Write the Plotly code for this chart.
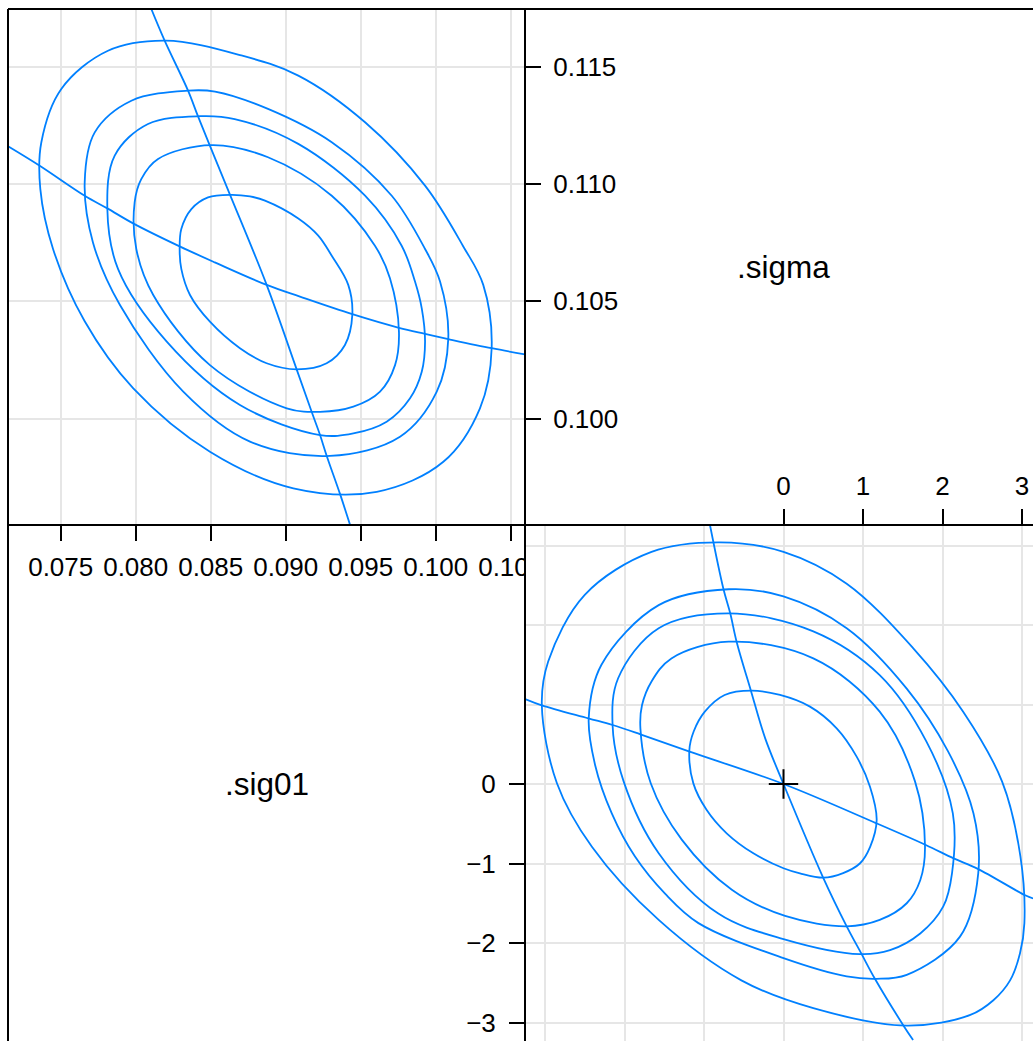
import plotly.graph_objects as go

# ---------------------------------------------------------------
# Profile pairs plot for a mixed model: .sig01 and .sigma
# upper-left panel: original scale, lower-right panel: zeta scale
# ---------------------------------------------------------------

# tick values
sig01_ticks = [0.075, 0.080, 0.085, 0.090, 0.095, 0.100, 0.105]
sigma_ticks = [0.100, 0.105, 0.110, 0.115]
zeta_grid = [-3, -2, -1, 0, 1, 2, 3]
zeta_x_ticks = [0, 1, 2, 3]
zeta_y_ticks = [0, -1, -2, -3]

# contours on the original scale (.sig01, .sigma)
orig_c1 = [(0.08637, 0.10954), (0.08482, 0.10943), (0.08371, 0.10893), (0.08304, 0.10808),
           (0.08293, 0.10723), (0.08304, 0.10638), (0.08362, 0.10527), (0.08495, 0.10413),
           (0.08695, 0.10300), (0.08873, 0.10236), (0.09073, 0.10210), (0.09273, 0.10236),
           (0.09395, 0.10314), (0.09444, 0.10442), (0.09417, 0.10570), (0.09307, 0.10694),
           (0.09217, 0.10780), (0.09084, 0.10853), (0.08862, 0.10929), (0.08762, 0.10947)]
orig_c2 = [(0.08504, 0.11166), (0.08149, 0.11107), (0.08037, 0.11021), (0.07993, 0.10922),
           (0.08004, 0.10723), (0.08117, 0.10527), (0.08495, 0.10228), (0.09007, 0.10044),
           (0.09229, 0.10029), (0.09451, 0.10051), (0.09629, 0.10115), (0.09729, 0.10228),
           (0.09755, 0.10370), (0.09695, 0.10598), (0.09595, 0.10737), (0.09307, 0.10950),
           (0.08882, 0.11114)]
orig_c3 = [(0.08429, 0.11289), (0.08082, 0.11256), (0.07860, 0.11121), (0.07811, 0.10893),
           (0.07882, 0.10638), (0.08207, 0.10328), (0.08695, 0.10058), (0.09229, 0.09930),
           (0.09451, 0.09937), (0.09673, 0.09987), (0.09829, 0.10087), (0.09907, 0.10200),
           (0.09929, 0.10328), (0.09907, 0.10470), (0.09862, 0.10584), (0.09773, 0.10737),
           (0.09529, 0.10950), (0.09084, 0.11171), (0.08660, 0.11277)]
orig_c4 = [(0.08349, 0.11398), (0.07971, 0.11355), (0.07727, 0.11220), (0.07660, 0.11007),
           (0.07715, 0.10751), (0.07895, 0.10484), (0.08317, 0.10115), (0.08762, 0.09902),
           (0.09295, 0.09841), (0.09762, 0.09923), (0.10007, 0.10115), (0.10084, 0.10342),
           (0.10029, 0.10584), (0.09929, 0.10723), (0.09707, 0.10950), (0.09307, 0.11178),
           (0.08882, 0.11320), (0.08529, 0.11394)]
orig_c5 = [(0.08200, 0.11611), (0.07815, 0.11568), (0.07504, 0.11405), (0.07371, 0.11178),
           (0.07364, 0.10979), (0.07449, 0.10723), (0.07659, 0.10416), (0.07984, 0.10129),
           (0.08495, 0.09859), (0.09051, 0.09703), (0.09607, 0.09688), (0.10051, 0.09816),
           (0.10295, 0.10044), (0.10373, 0.10300), (0.10317, 0.10570), (0.10182, 0.10736),
           (0.09929, 0.10993), (0.09529, 0.11263), (0.09084, 0.11462), (0.08704, 0.11548)]

# profile traces on the original scale
orig_trace_a = [(0.08104, 0.11746), (0.08193, 0.11611), (0.08349, 0.11398), (0.08415, 0.11289),
                (0.08493, 0.11166), (0.08627, 0.10957), (0.08873, 0.10570), (0.09073, 0.10210),
                (0.09173, 0.10029), (0.09229, 0.09930), (0.09273, 0.09842), (0.09362, 0.09679),
                (0.09429, 0.09547)]
orig_trace_b = [(0.07149, 0.11161), (0.07360, 0.11078), (0.07660, 0.10950), (0.07811, 0.10896),
                (0.07989, 0.10830), (0.08293, 0.10734), (0.08527, 0.10666), (0.08873, 0.10570),
                (0.09095, 0.10520), (0.09444, 0.10445), (0.09755, 0.10387), (0.09929, 0.10361),
                (0.10084, 0.10339), (0.10373, 0.10300), (0.10595, 0.10274)]

# contours on the zeta scale (.sigma zeta, .sig01 zeta)
zeta_c1 = [(-0.40, 1.174), (-0.74, 1.12), (-0.99, 0.91), (-1.13, 0.66), (-1.184, 0.428),
           (-1.134, 0.008), (-0.966, -0.327), (-0.715, -0.62), (-0.379, -0.872), (0.0, -1.06),
           (0.207, -1.124), (0.501, -1.178), (0.75, -1.12), (0.96, -1.0), (1.09, -0.79),
           (1.172, -0.453), (1.088, -0.034), (0.92, 0.344), (0.669, 0.70), (0.333, 0.973),
           (-0.044, 1.12)]
zeta_c2 = [(-0.69, 1.79), (-1.41, 1.58), (-1.66, 1.29), (-1.78, 0.99), (-1.80, 0.70),
           (-1.67, 0.01), (-1.28, -0.70), (-0.65, -1.33), (0.02, -1.66), (0.795, -1.79),
           (1.21, -1.71), (1.55, -1.50), (1.72, -1.21), (1.78, -0.79), (1.655, 0.03),
           (1.21, 0.91), (0.375, 1.58)]
zeta_c3 = [(-0.69, 2.147), (-1.57, 1.96), (-2.08, 1.33), (-2.15, 0.74), (-2.01, 0.03),
           (-1.57, -0.87), (-0.82, -1.63), (0.0, -1.95), (0.96, -2.14), (1.34, -2.09),
           (1.72, -1.88), (2.01, -1.54), (2.12, -1.12), (2.13, -0.37), (1.80, 0.53),
           (1.21, 1.37), (0.375, 1.92)]
zeta_c4 = [(-0.69, 2.45), (-1.57, 2.25), (-2.29, 1.50), (-2.45, 0.83), (-2.37, 0.24),
           (-2.16, -0.37), (-1.87, -0.91), (-1.49, -1.38), (-1.07, -1.75), (0.0, -2.19),
           (0.795, -2.42), (1.17, -2.45), (1.55, -2.40), (2.22, -1.92), (2.45, -1.12),
           (2.39, -0.37), (2.07, 0.41), (1.55, 1.20), (0.795, 1.96), (0.0, 2.36)]
zeta_c5 = [(-0.80, 3.04), (-1.66, 2.92), (-2.50, 2.38), (-2.96, 1.54), (-3.04, 0.99),
           (-2.85, 0.01), (-2.41, -0.79), (-1.57, -1.71), (-0.53, -2.47), (0.375, -2.82),
           (1.55, -3.04), (2.35, -2.905), (2.64, -2.72), (2.85, -2.47), (2.975, -2.13),
           (3.03, -1.75), (2.98, -0.91), (2.75, 0.03), (2.26, 0.91), (1.63, 1.71),
           (0.795, 2.52), (0.0, 2.92)]

# profile traces on the zeta scale
zeta_trace_a = [(-0.925, 3.258), (-0.757, 2.46), (-0.67, 2.147), (-0.59, 1.79), (-0.41, 1.174),
                (-0.23, 0.574), (0.0, 0.0), (0.50, -1.18), (0.795, -1.79), (0.983, -2.14),
                (1.15, -2.45), (1.51, -3.04), (1.63, -3.22)]
zeta_trace_b = [(-3.25, 1.069), (-3.04, 0.99), (-2.455, 0.826), (-2.15, 0.742), (-1.80, 0.625),
                (-1.19, 0.41), (0.0, 0.0), (1.17, -0.495), (1.79, -0.767), (2.14, -0.935),
                (2.45, -1.07), (3.04, -1.40), (3.14, -1.44)]

# ---------------------------------------------------------------
W, H = 1033, 1041
BLUE = "#0080ff"
GRID = "#e6e6e6"
FONT = "Liberation Sans, Arial, Helvetica, sans-serif"
TICK_SIZE = 26
LABEL_SIZE = 31.5

fig = go.Figure()


def add_curve(pts, xa, ya, closed):
    xs = [p[0] for p in pts]
    ys = [p[1] for p in pts]
    if closed:
        xs.append(xs[0])
        ys.append(ys[0])
    fig.add_trace(go.Scatter(
        x=xs, y=ys, xaxis=xa, yaxis=ya, mode="lines",
        line=dict(color=BLUE, width=1.8, shape="spline", smoothing=1.0),
        hoverinfo="skip", showlegend=False))


for ring in (orig_c1, orig_c2, orig_c3, orig_c4, orig_c5):
    add_curve(ring, "x", "y", True)
add_curve(orig_trace_a, "x", "y", False)
add_curve(orig_trace_b, "x", "y", False)

for ring in (zeta_c1, zeta_c2, zeta_c3, zeta_c4, zeta_c5):
    add_curve(ring, "x2", "y2", True)
add_curve(zeta_trace_a, "x2", "y2", False)
add_curve(zeta_trace_b, "x2", "y2", False)

# joint estimate marker at the origin of the zeta scale
fig.add_trace(go.Scatter(
    x=[0], y=[0], xaxis="x3", yaxis="y3", mode="markers",
    marker=dict(symbol="cross-thin", size=21, color="black",
                line=dict(color="black", width=2)),
    hoverinfo="skip", showlegend=False))

# panel geometry (pixels in the page)
left, top, mid = 8, 9, 525
xr_orig = [0.071487, 0.105953]
yr_orig = [0.095465, 0.117459]
xr_zeta = [-3.2516, 3.1384]
yr_zeta = [-3.2327, 3.2579]

tick_common = dict(ticks="outside", ticklen=15, tickwidth=1.6, tickcolor="black",
                   tickfont=dict(family=FONT, size=TICK_SIZE, color="black"),
                   zeroline=False, showline=False)

fig.update_layout(
    width=W, height=H, autosize=False,
    margin=dict(l=0, r=0, t=0, b=0, pad=0, autoexpand=False),
    paper_bgcolor="white", plot_bgcolor="white",
    showlegend=False,
    font=dict(family=FONT, color="black", size=TICK_SIZE),
    xaxis=dict(domain=[left / W, mid / W], range=xr_orig, anchor="y", side="bottom",
               tickvals=sig01_ticks, ticktext=[f"{v:.3f}" for v in sig01_ticks],
               ticklabelstandoff=4,
               showgrid=True, gridcolor=GRID, gridwidth=2, **tick_common),
    yaxis=dict(domain=[1 - mid / H, 1 - top / H], range=yr_orig, anchor="x", side="right",
               tickvals=sigma_ticks, ticktext=[f"{v:.3f}" for v in sigma_ticks],
               ticklabelstandoff=7,
               showgrid=True, gridcolor=GRID, gridwidth=2, **tick_common),
    xaxis2=dict(domain=[mid / W, 1], range=xr_zeta, anchor="y2", tickvals=zeta_grid,
                showticklabels=False, ticks="", showgrid=True, gridcolor=GRID, gridwidth=2,
                zeroline=False, showline=False),
    yaxis2=dict(domain=[0, 1 - mid / H], range=yr_zeta, anchor="x2", tickvals=zeta_grid,
                showticklabels=False, ticks="", showgrid=True, gridcolor=GRID, gridwidth=2,
                zeroline=False, showline=False),
    xaxis3=dict(overlaying="x2", range=xr_zeta, anchor="y3", side="top",
                tickvals=zeta_x_ticks, ticklabelstandoff=4, showgrid=False, **tick_common),
    yaxis3=dict(overlaying="y2", range=yr_zeta, anchor="x3", side="left",
                tickvals=zeta_y_ticks, ticklabelstandoff=8, showgrid=False, **tick_common),
)

# variable names on the diagonal panels
fig.add_annotation(text=".sigma", xref="x2", yref="y", x=0,
                   y=(yr_orig[0] + yr_orig[1]) / 2, showarrow=False,
                   font=dict(family=FONT, size=LABEL_SIZE, color="black"))
fig.add_annotation(text=".sig01", xref="x", yref="y2", x=(xr_orig[0] + xr_orig[1]) / 2,
                   y=0, showarrow=False,
                   font=dict(family=FONT, size=LABEL_SIZE, color="black"))

# tick labels of the diagonal panel are clipped at the panel edge
fig.add_shape(type="rect", xref="paper", yref="paper", layer="above",
              x0=(mid + 1) / W, x1=543.5 / W, y0=1 - 600 / H, y1=1 - 547 / H,
              fillcolor="white", line=dict(width=0))

# panel frames
frame = dict(color="black", width=2)
for shp in (
    dict(x0=left / W, x1=left / W, y0=0, y1=1 - top / H),
    dict(x0=left / W, x1=1, y0=1 - top / H, y1=1 - top / H),
    dict(x0=mid / W, x1=mid / W, y0=0, y1=1 - top / H),
    dict(x0=left / W, x1=1, y0=1 - mid / H, y1=1 - mid / H),
):
    fig.add_shape(type="line", xref="paper", yref="paper", layer="above", line=frame, **shp)

fig.write_html("out.html", config={"responsive": False})
